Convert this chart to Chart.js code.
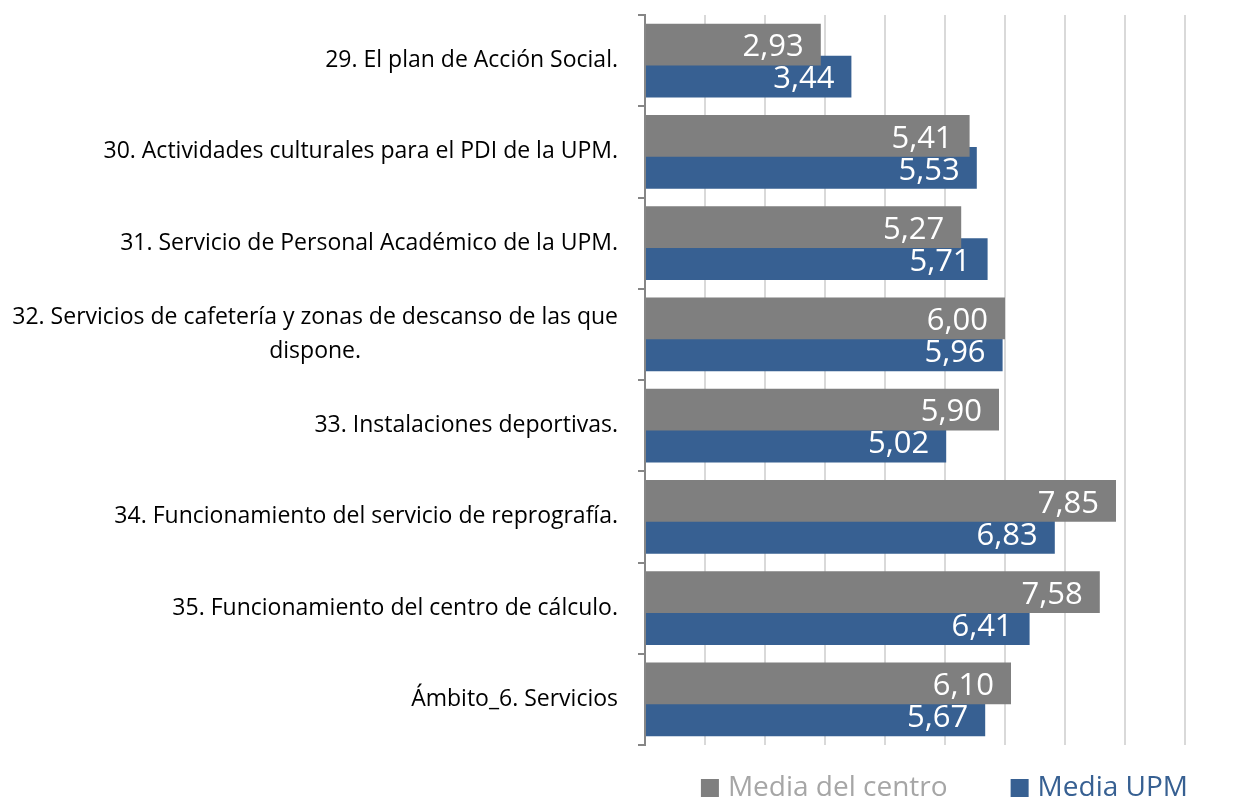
<!DOCTYPE html>
<html>
<head>
<meta charset="utf-8">
<script src="https://cdn.jsdelivr.net/npm/chart.js@4.4.1/dist/chart.umd.min.js"></script>
<style>
  html, body { margin: 0; background: #fff; }
  #wrap { width: 1237px; height: 800px; }
</style>
</head>
<body>
<div id="wrap"><canvas id="chart"></canvas></div>
<script>
const categories = [
  ["29. El plan de Acción Social."],
  ["30. Actividades culturales para el PDI de la UPM."],
  ["31. Servicio de Personal Académico de la UPM."],
  ["32. Servicios de cafetería y zonas de descanso de las que", "dispone."],
  ["33. Instalaciones deportivas."],
  ["34. Funcionamiento del servicio de reprografía."],
  ["35. Funcionamiento del centro de cálculo."],
  ["Ámbito_6. Servicios"],
];
const mediaCentro = [2.93, 5.41, 5.27, 6.00, 5.90, 7.85, 7.58, 6.10];
const mediaUPM = [3.44, 5.53, 5.71, 5.96, 5.02, 6.83, 6.41, 5.67];
const seriesNames = ["Media del centro", "Media UPM"];
const xMax = 9;

const GRAY = "#7f7f7f";
const BLUE = "#376092";
const legendText = ["#a6a6a6", BLUE];
const FONT = '"Open Sans", sans-serif';

const fmt = (v) => v.toFixed(2).replace(".", ",");

// category labels: block right-aligned, lines centred on each other
const sideLabels = {
  id: "sideLabels",
  afterDraw(chart) {
    const y = chart.scales.y;
    const ctx = chart.ctx;
    ctx.save();
    ctx.font = "23px " + FONT;
    ctx.fillStyle = "#000";
    ctx.textBaseline = "middle";
    ctx.textAlign = "center";
    const lh = 34;
    categories.forEach((lines, i) => {
      const cy = y.getPixelForValue(i);
      const widest = Math.max(...lines.map((l) => ctx.measureText(l).width));
      const cx = y.right - 27 - widest / 2;
      lines.forEach((l, k) => {
        ctx.fillText(l, cx, cy + (k - (lines.length - 1) / 2) * lh);
      });
    });
    ctx.restore();
  },
};

// value labels inside the bar ends
const valueLabels = {
  id: "valueLabels",
  afterDatasetsDraw(chart) {
    const ctx = chart.ctx;
    ctx.save();
    ctx.font = "31px " + FONT;
    ctx.fillStyle = "#fff";
    ctx.textAlign = "right";
    ctx.textBaseline = "middle";
    chart.data.datasets.forEach((ds, di) => {
      chart.getDatasetMeta(di).data.forEach((bar, i) => {
        ctx.fillText(fmt(ds.data[i]), bar.x - 17, bar.y + 3);
      });
    });
    ctx.restore();
  },
};

// legend under the plot, right aligned to the last grid line
const bottomLegend = {
  id: "bottomLegend",
  afterDraw(chart) {
    const ctx = chart.ctx;
    ctx.save();
    ctx.font = "28px " + FONT;
    ctx.textBaseline = "middle";
    ctx.textAlign = "left";
    const ly = 788;
    let x = chart.chartArea.right + 3;
    for (let i = seriesNames.length - 1; i >= 0; i--) {
      const w = ctx.measureText(seriesNames[i]).width;
      const tx = x - w;
      ctx.fillStyle = legendText[i];
      ctx.fillText(seriesNames[i], tx, ly);
      const sq = tx - 9 - 18;
      ctx.fillStyle = chart.data.datasets[i].backgroundColor;
      ctx.fillRect(sq, ly - 9, 18, 18);
      x = sq - 63;
    }
    ctx.restore();
  },
};

new Chart(document.getElementById("chart"), {
  type: "bar",
  data: {
    labels: categories,
    datasets: [
      { label: seriesNames[0], data: mediaCentro, backgroundColor: GRAY },
      { label: seriesNames[1], data: mediaUPM, backgroundColor: BLUE },
    ],
  },
  options: {
    indexAxis: "y",
    responsive: true,
    maintainAspectRatio: false,
    animation: false,
    categoryPercentage: 0.7,
    barPercentage: 1.31,
    layout: { padding: { top: 15, right: 52, bottom: 55, left: 0 } },
    scales: {
      x: {
        min: 0,
        max: xMax,
        ticks: { display: false, stepSize: 1 },
        grid: { color: "#d9d9d9", lineWidth: 2, drawTicks: false },
        border: { display: false },
      },
      y: {
        ticks: { color: "transparent", font: { size: 20, family: FONT } },
        grid: {
          offset: true,
          drawOnChartArea: false,
          drawTicks: true,
          tickLength: 7,
          color: "#868686",
          lineWidth: 2,
        },
        border: { color: "#868686", width: 2 },
        afterFit(s) {
          s.width = 645;
        },
      },
    },
    plugins: {
      legend: { display: false },
      tooltip: { enabled: false },
    },
  },
  plugins: [sideLabels, valueLabels, bottomLegend],
});
</script>
</body>
</html>
